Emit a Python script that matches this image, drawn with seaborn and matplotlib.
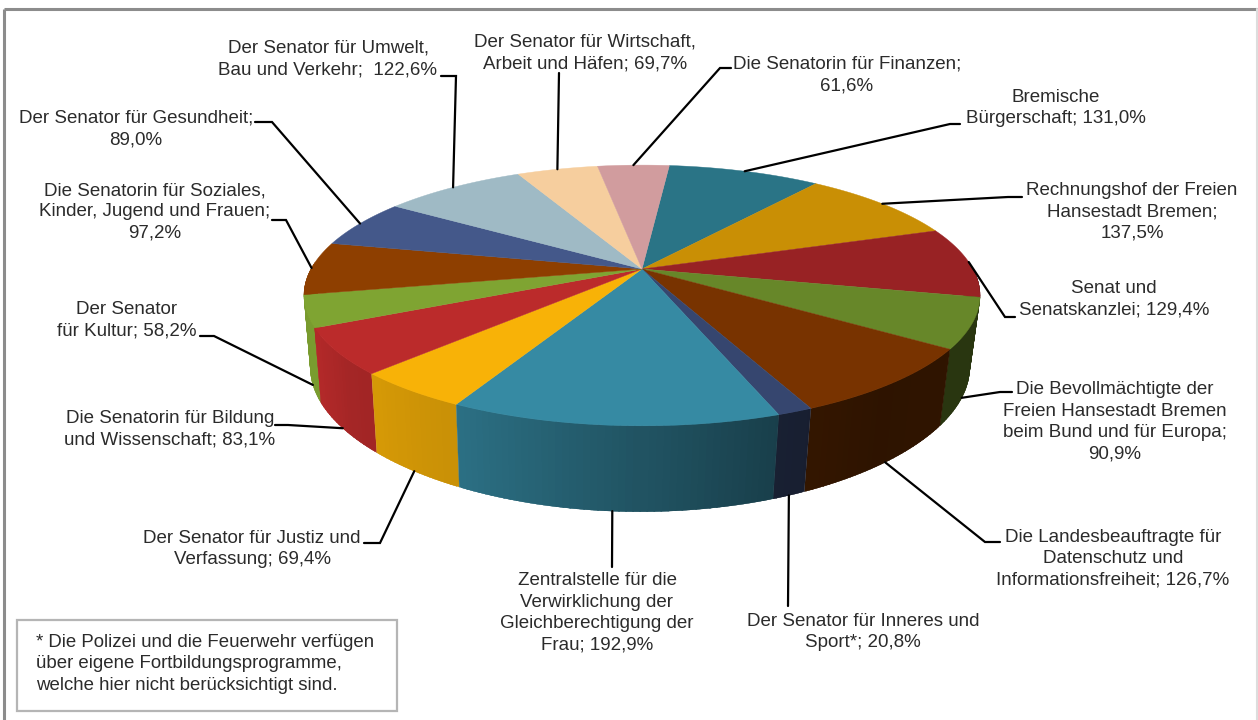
"""
Fortbildung je Ressort - 3D-style pie chart with leader lines
"""
import numpy as np
import matplotlib
matplotlib.use('Agg')
import matplotlib.pyplot as plt
from matplotlib.patches import Rectangle
import seaborn as sns

# data, clockwise from the top of the pie
labels = [
    'Bremische\nBürgerschaft; 131,0%',
    'Rechnungshof der Freien\nHansestadt Bremen;\n137,5%',
    'Senat und\nSenatskanzlei; 129,4%',
    'Die Bevollmächtigte der\nFreien Hansestadt Bremen\nbeim Bund und für Europa;\n90,9%',
    'Die Landesbeauftragte für\nDatenschutz und\nInformationsfreiheit; 126,7%',
    'Der Senator für Inneres und\nSport*; 20,8%',
    'Zentralstelle für die\nVerwirklichung der\nGleichberechtigung der\nFrau; 192,9%',
    'Der Senator für Justiz und\nVerfassung; 69,4%',
    'Die Senatorin für Bildung\nund Wissenschaft; 83,1%',
    'Der Senator\nfür Kultur; 58,2%',
    'Die Senatorin für Soziales,\nKinder, Jugend und Frauen;\n97,2%',
    'Der Senator für Gesundheit;\n89,0%',
    'Der Senator für Umwelt,\nBau und Verkehr;  122,6%',
    'Der Senator für Wirtschaft,\nArbeit und Häfen; 69,7%',
    'Die Senatorin für Finanzen;\n61,6%',
]
values = [131.0, 137.5, 129.4, 90.9, 126.7, 20.8, 192.9, 69.4,
          83.1, 58.2, 97.2, 89.0, 122.6, 69.7, 61.6]
slice_colors = ['#2A7486', '#C98F05', '#982224', '#678729', '#783300',
                '#36466F', '#368AA3', '#F8B207', '#BB2B2B', '#7FA432',
                '#8E3F00', '#44588A', '#9FBAC5', '#F6CE9E', '#D19C9E']

# layout in pixels: label centre, then the elbow of the leader line
label_pos = [(1056, 108), (1132, 212), (1114, 299), (1115, 422), (1113, 558.5),
             (863, 632), (597, 613), (252, 549), (170, 429), (127, 320),
             (155, 212), (136, 129), (328, 59), (585, 53), (847, 75)]
leader_start = [(960, 124), (1022, 197), (1015, 317), (1012, 392), (1000, 542),
                (788, 606), (612, 567), (364, 543), (275, 425), (200, 336),
                (272, 220), (255, 122), (441, 76), (559, 73), (731, 68)]
leader_elbow = [(950, 124), (1008, 197), (1005, 317), (1000, 392), (985, 542),
                (788, 606), (612, 567), (380, 543), (288, 425), (214, 336),
                (286, 220), (272, 122), (456, 76), (559, 73), (720, 68)]

START_ANGLE = 5.7
TOP = dict(cx=642, a=331, kx=0.203, b=125, k=0.203, cy=269)
BOTTOM = dict(cx=640, a=323, kx=0.2, b=128, k=0.25, cy=341)

# wall brightness across the picture (x pixel, factor)
shade_x = [320, 350, 420, 459, 600, 773, 800, 880, 960]
shade_f = [0.95, 0.88, 0.83, 0.81, 0.65, 0.46, 0.44, 0.38, 0.40]


def rim(theta_deg, plane):
    """Project a clockwise pie angle onto the rim of the top or bottom disc"""
    t = np.radians(theta_deg)
    u, v = np.sin(t), np.cos(t)
    x = plane['cx'] + plane['a'] * u / (1 + plane['kx'] * v)
    y = plane['cy'] - plane['b'] * v / (1 + plane['k'] * v)
    return x, y


def shaded(color, x):
    f = np.interp(x, shade_x, shade_f)
    return tuple(np.array(color) * f)


sns.set_theme(style='white')
plt.rcParams['font.family'] = ['Liberation Sans', 'DejaVu Sans']

fig = plt.figure(figsize=(12.58, 7.2), dpi=100, facecolor='white')
ax = fig.add_axes([0, 0, 1, 1])
ax.set_xlim(0, 1258)
ax.set_ylim(720, 0)
ax.axis('off')

# chart frame
ax.plot([4, 4], [720, 9], color='#8c8c8c', lw=2.2, solid_capstyle='butt')
ax.plot([4, 1258], [9, 9], color='#8c8c8c', lw=2.2, solid_capstyle='butt')
ax.plot([1257, 1257], [9, 720], color='#dddddd', lw=1.5)

palette = sns.color_palette(slice_colors)
edges = START_ANGLE + np.concatenate([[0], np.cumsum(values)]) / np.sum(values) * 360
mids = (edges[:-1] + edges[1:]) / 2

# side walls first, painted back to front with a little overlap
quads = []
for i, color in enumerate(palette):
    steps = np.arange(edges[i], edges[i + 1], 1.0).tolist() + [edges[i + 1]]
    for t0, t1 in zip(steps[:-1], steps[1:]):
        mid = (t0 + t1) / 2
        if np.cos(np.radians(mid)) > 0.05:
            continue
        quads.append((np.cos(np.radians(mid)), max(t0 - 0.6, edges[i]),
                      min(t1 + 0.6, edges[i + 1]), color))

for _, t0, t1, color in sorted(quads, key=lambda q: -q[0]):
    x0, y0 = rim(t0, TOP)
    x1, y1 = rim(t1, TOP)
    x2, y2 = rim(t1, BOTTOM)
    x3, y3 = rim(t0, BOTTOM)
    c = shaded(color, (x0 + x1) / 2)
    ax.fill([x0, x1, x2, x3], [y0, y1, y2, y3], color=c, lw=0.2, zorder=2)

# top surface
for i, color in enumerate(palette):
    theta = np.linspace(edges[i], edges[i + 1], 60)
    xs, ys = rim(theta, TOP)
    ax.fill(np.r_[TOP['cx'], xs], np.r_[TOP['cy'], ys], color=color, lw=0.3, zorder=3)

# leader lines end on the rim at the middle of each slice
for i, mid in enumerate(mids):
    plane = BOTTOM if np.cos(np.radians(mid)) < -0.1 else TOP
    ex, ey = rim(mid, plane)
    sx, sy = leader_start[i]
    bx, by = leader_elbow[i]
    ax.plot([sx, bx, ex], [sy, by, ey], color='black', lw=1.6, zorder=4,
            solid_joinstyle='miter')

for (x, y), text in zip(label_pos, labels):
    ax.text(x, y, text, ha='center', va='center', multialignment='center',
            fontsize=13.5, color='#2b2b2b', linespacing=1.34, zorder=5)

# footnote box
ax.add_patch(Rectangle((17, 620), 380, 91, facecolor='white',
                       edgecolor='#b5b5b5', lw=1.6, zorder=5))
ax.text(36, 664, '* Die Polizei und die Feuerwehr verfügen\n'
        'über eigene Fortbildungsprogramme,\n'
        'welche hier nicht berücksichtigt sind.',
        ha='left', va='center', fontsize=13.45, color='#2b2b2b',
        linespacing=1.34, zorder=6)

fig.savefig('out.png', dpi=100, facecolor='white')
